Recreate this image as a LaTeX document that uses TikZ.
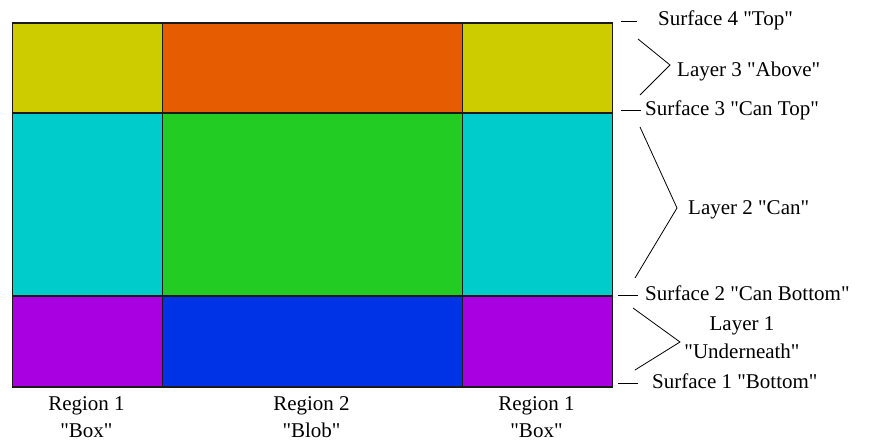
\documentclass[tikz,border=0pt]{standalone}
\usepackage{fontspec}
\newfontfamily\labelfont{Liberation Serif}
\usetikzlibrary{positioning}
\definecolor{cellyellow}{HTML}{CCCC00}
\definecolor{cellorange}{HTML}{E65C00}
\definecolor{cellcyan}{HTML}{00CCCC}
\definecolor{cellgreen}{HTML}{22CC22}
\definecolor{cellpurple}{HTML}{A800E0}
\definecolor{cellblue}{HTML}{0033E6}
\definecolor{gridink}{HTML}{1A1A1A}
\newcommand{\layercell}[6]{%
  \node[draw=gridink, line width=1.5pt, fill=#6, inner sep=0pt,
        anchor=north west, minimum width=#4pt, minimum height=#5pt] (#1) at (#2,#3) {};}
\tikzset{
  lbl/.style={font=\labelfont\fontsize{21}{27}\selectfont, inner sep=0pt},
  surflabel/.style={lbl, anchor=west, text height=14.5pt, text depth=4pt},
  tick/.style={line width=0.9pt},
  brace/.style={line width=0.8pt, line join=miter},
}

\begin{document}
\begin{tikzpicture}[x=1pt, y=-1pt]
  \useasboundingbox (0,0) rectangle (873,442);
  % top row
  \layercell{c31}{11.5}{22}{150}{90}{cellyellow}
  \layercell{c32}{161.5}{22}{300}{90}{cellorange}
  \layercell{c33}{461.5}{22}{150}{90}{cellyellow}
  % middle row
  \layercell{c21}{11.5}{112}{150}{183}{cellcyan}
  \layercell{c22}{161.5}{112}{300}{183}{cellgreen}
  \layercell{c23}{461.5}{112}{150}{183}{cellcyan}
  % bottom row
  \layercell{c11}{11.5}{295}{150}{91}{cellpurple}
  \layercell{c12}{161.5}{295}{300}{91}{cellblue}
  \layercell{c13}{461.5}{295}{150}{91}{cellpurple}

  % surfaces
  \node[surflabel] (s4) at (658,20) {Surface 4 "Top"};
  \node[surflabel] (s3) at (645,110) {Surface 3 "Can Top"};
  \node[surflabel] (s2) at (645,295) {Surface 2 "Can Bottom"};
  \node[surflabel] (s1) at (652,383) {Surface 1 "Bottom"};
  \draw[tick] (621,21.5) -- (637,21.5);
  \draw[tick] (621,110) -- (641,110);
  \draw[tick] (618,295) -- (638,295);
  \draw[tick] (618,383) -- (638,383);

  % layers
  \node[surflabel] (l3) at (677,71) {Layer 3 "Above"};
  \node[surflabel] (l2) at (688,209) {Layer 2 "Can"};
  \node[lbl, align=center, font=\labelfont\fontsize{21}{28}\selectfont] (l1) at (742,338) {Layer 1\\"Underneath"};
  \coordinate (b3a) at (638,39);  \coordinate (b3b) at (670,65);  \coordinate (b3c) at (640,95);
  \coordinate (b2a) at (640,127); \coordinate (b2b) at (677,208); \coordinate (b2c) at (635,278);
  \coordinate (b1a) at (633,308); \coordinate (b1b) at (680,342); \coordinate (b1c) at (635,370);
  \draw[brace] (b3a) -- (b3b) -- (b3c);
  \draw[brace] (b2a) -- (b2b) -- (b2c);
  \draw[brace] (b1a) -- (b1b) -- (b1c);

  % regions
  \node[lbl, align=center] (r1) at (86.5,417) {Region 1\\"Box"};
  \node[lbl, align=center] (r2) at (311.5,417) {Region 2\\"Blob"};
  \node[lbl, align=center] (r3) at (536.5,417) {Region 1\\"Box"};
\end{tikzpicture}
\end{document}
